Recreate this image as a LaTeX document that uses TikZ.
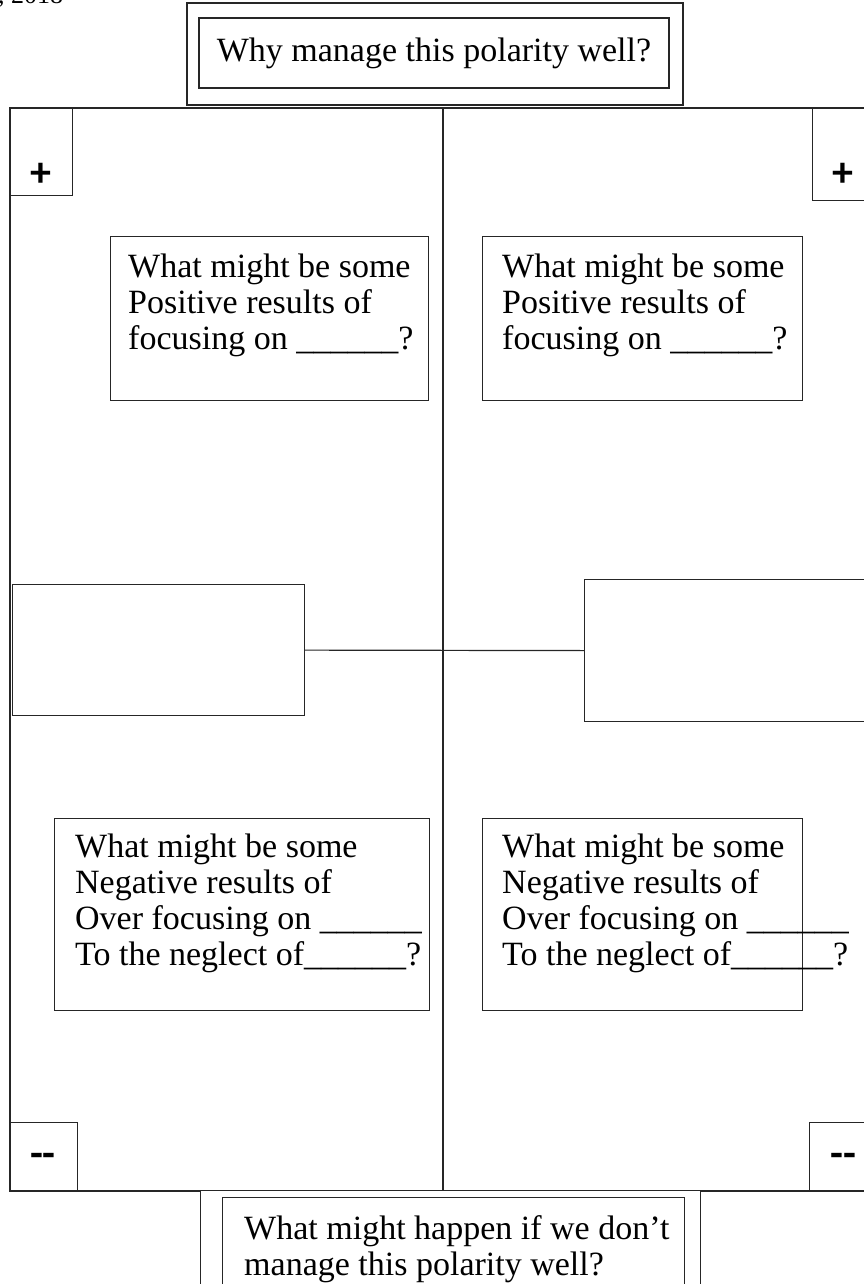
\documentclass[tikz,border=0pt]{standalone}
\usepackage{fontspec}
\setmainfont{Liberation Serif}
\newfontfamily\signfont{Carlito}
\newcommand{\qfont}{\fontsize{34}{36}\selectfont}
\tikzset{
  frame/.style={draw=black!85, line width=1.2pt},
  box/.style={draw=black!85, line width=1.2pt, inner sep=0pt},
  qtext/.style={align=left, inner sep=0pt, font=\qfont},
  sign/.style={inner sep=0pt, font=\signfont\bfseries\fontsize{42}{44}\selectfont}
}
\begin{document}
\begin{tikzpicture}[x=1pt,y=-1pt]
\useasboundingbox (0,0) rectangle (864,1284);
\clip (0,0) rectangle (864,1284);
% date, cut off at the page top
\node[anchor=base west, inner sep=0pt, font=\fontsize{26}{30}\selectfont] (date) at (-2,4) {, 2018};

% frame and centre line
\draw[frame] (10,108) rectangle (880,1191);
\coordinate (ctop) at (443,108);
\coordinate (cbot) at (443,1191);
\draw[frame] (ctop) -- (cbot);

% title
\node[box, minimum width=496, minimum height=102] (whyout) at (435,54) {};
\node[box, minimum width=470, minimum height=70, font=\qfont] (why) at (434,53) {Why manage this polarity well?};

% plus and minus corners
\node[box, minimum width=62, minimum height=87, anchor=north west] (plusL) at (10,108) {};
\node[sign] (plusLs) at (41,175) {+};
\node[box, minimum width=70, minimum height=92, anchor=north west] (plusR) at (812,108) {};
\node[sign] (plusRs) at (843,175) {+};
\node[box, minimum width=67, minimum height=68, anchor=south west] (minusL) at (10,1191) {};
\node[sign] (minusLs) at (43,1160) {-{}-};
\node[box, minimum width=70, minimum height=68, anchor=south west] (minusR) at (809,1191) {};
\node[sign] (minusRs) at (843,1160) {-{}-};

% upper question boxes
\node[box, minimum width=318, minimum height=164, anchor=north west] (posL) at (110,236) {};
\node[qtext, anchor=north west] (posLq) at (128,254) {What might be some\\Positive results of\\focusing on \_\_\_\_\_\_?};
\node[box, minimum width=320, minimum height=164, anchor=north west] (posR) at (482,236) {};
\node[qtext, anchor=north west] (posRq) at (502,254) {What might be some\\Positive results of\\focusing on \_\_\_\_\_\_?};

% middle boxes
\node[box, fill=white, minimum width=292, minimum height=131, anchor=north west] (midL) at (12,584) {};
\node[box, minimum width=300, minimum height=142, anchor=north west] (midR) at (584,579) {};
\draw[frame] (midL.east) -- (midR.west);

% lower question boxes
\node[box, minimum width=375, minimum height=192, anchor=north west] (negL) at (54,818) {};
\node[qtext, anchor=north west] (negLq) at (75,834) {What might be some\\Negative results of\\Over focusing on \_\_\_\_\_\_\\To the neglect of\_\_\_\_\_\_?};
\node[box, minimum width=320, minimum height=192, anchor=north west] (negR) at (482,818) {};
\node[qtext, anchor=north west] (negRq) at (502,834) {What might be some\\Negative results of\\Over focusing on \_\_\_\_\_\_\\To the neglect of\_\_\_\_\_\_?};

% bottom question
\node[box, fill=white, minimum width=500, minimum height=120, anchor=north west] (whatout) at (200,1190) {};
\node[box, minimum width=462, minimum height=110, anchor=north west] (what) at (222,1197) {};
\node[qtext, anchor=north west] (whatq) at (244,1215) {What might happen if we don’t\\manage this polarity well?};
\end{tikzpicture}
\end{document}
